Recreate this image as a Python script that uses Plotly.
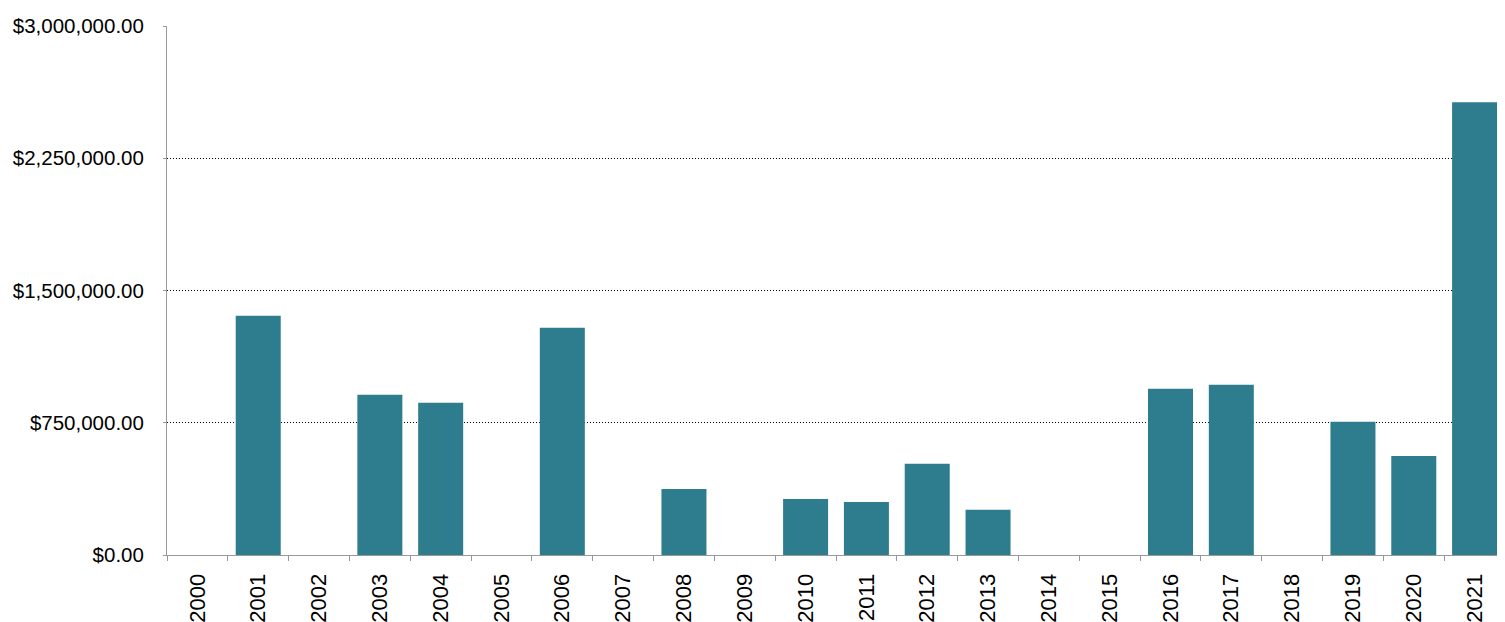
import plotly.graph_objects as go

years = [str(y) for y in range(2000, 2022)]
amounts = [0, 1357000, 0, 909000, 863000, 0, 1289000, 0, 375000, 0,
           318000, 301000, 517000, 256000, 0, 0, 943000, 966000, 0, 755000,
           562000, 2567000]
y_ticks = [0, 750000, 1500000, 2250000, 3000000]

font_family = "Liberation Sans, Arial, Helvetica, sans-serif"

fig = go.Figure(go.Bar(
    x=years, y=amounts,
    marker=dict(color="#2e7d8f", line=dict(width=0)),
))

# page body has an 8px margin, so the figure is offset by (8, 8)
fig.update_layout(
    width=1497, height=614,
    margin=dict(l=159, r=0, t=18, b=67),
    plot_bgcolor="white", paper_bgcolor="white",
    bargap=0.26,
    showlegend=False,
    font=dict(family=font_family, size=22, color="black"),
)

fig.update_xaxes(
    type="category",
    showline=True, linecolor="#999999", linewidth=1,
    ticks="outside", tickson="boundaries", ticklen=5, tickcolor="#999999",
    tickangle=-90, showgrid=False, automargin=False,
    ticklabelstandoff=9,
    tickfont=dict(family=font_family, size=22, color="black"),
)

fig.update_yaxes(
    range=[0, 3000000], tickvals=y_ticks, tickformat="$,.2f",
    showline=True, linecolor="#999999", linewidth=1,
    ticks="outside", ticklen=3, tickcolor="#999999",
    showgrid=True, gridcolor="#000000", gridwidth=1, griddash="1px,2px",
    zeroline=False, automargin=False,
    ticklabelstandoff=15,
    tickfont=dict(family=font_family, size=20.5, color="black"),
)

fig.write_html("out.html")
